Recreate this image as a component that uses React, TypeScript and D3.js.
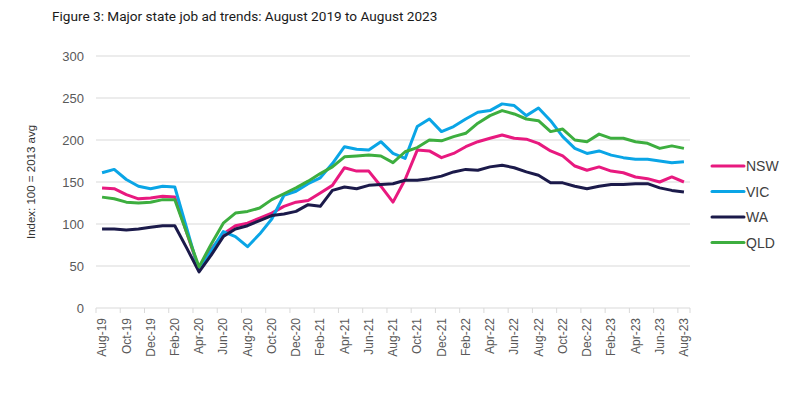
import React from 'react';
import * as d3 from 'd3';

const months = [
  'Aug-19', 'Sep-19', 'Oct-19', 'Nov-19', 'Dec-19', 'Jan-20', 'Feb-20', 'Mar-20', 'Apr-20', 'May-20',
  'Jun-20', 'Jul-20', 'Aug-20', 'Sep-20', 'Oct-20', 'Nov-20', 'Dec-20', 'Jan-21', 'Feb-21', 'Mar-21',
  'Apr-21', 'May-21', 'Jun-21', 'Jul-21', 'Aug-21', 'Sep-21', 'Oct-21', 'Nov-21', 'Dec-21', 'Jan-22',
  'Feb-22', 'Mar-22', 'Apr-22', 'May-22', 'Jun-22', 'Jul-22', 'Aug-22', 'Sep-22', 'Oct-22', 'Nov-22',
  'Dec-22', 'Jan-23', 'Feb-23', 'Mar-23', 'Apr-23', 'May-23', 'Jun-23', 'Jul-23', 'Aug-23',
];

const nsw = [
  143, 142, 135, 130, 131, 133, 132, 89, 46, 70,
  88, 98, 101, 107, 113, 121, 126, 128, 137, 146,
  167, 163, 163, 145, 126, 153, 188, 187, 179, 184,
  192, 198, 202, 206, 202, 201, 196, 187, 181, 169,
  164, 168, 163, 161, 156, 154, 150, 156, 150,
];
const vic = [
  161, 165, 153, 145, 142, 145, 144, 94, 44, 68,
  91, 85, 73, 88, 106, 134, 139, 148, 155, 172,
  192, 189, 188, 198, 184, 178, 216, 225, 210, 216,
  225, 233, 235, 243, 241, 229, 238, 223, 204, 190,
  184, 187, 182, 179, 177, 177, 175, 173, 174,
];
const wa = [
  94, 94, 93, 94, 96, 98, 98, 71, 43, 63,
  85, 94, 98, 104, 110, 112, 115, 123, 121, 140,
  144, 142, 146, 147, 148, 152, 152, 154, 157, 162,
  165, 164, 168, 170, 167, 162, 158, 149, 149, 145,
  142, 145, 147, 147, 148, 148, 143, 140, 138,
];
const qld = [
  132, 130, 126, 125, 126, 129, 129, 89, 49, 76,
  101, 113, 115, 119, 129, 136, 143, 151, 160, 168,
  180, 181, 182, 181, 173, 186, 191, 200, 199, 204,
  208, 220, 229, 235, 231, 225, 223, 210, 213, 200,
  198, 207, 202, 202, 198, 196, 190, 193, 190,
];

const yTicks = [0, 50, 100, 150, 200, 250, 300];

const series = [
  { name: 'NSW', values: nsw, color: '#E8197F' },
  { name: 'VIC', values: vic, color: '#0AA5E6' },
  { name: 'WA', values: wa, color: '#1B1A4A' },
  { name: 'QLD', values: qld, color: '#3DAE3F' },
];

const W = 812;
const H = 398;
const left = 96;
const right = 690;
const top = 56;
const bottom = 308;

export default function App() {
  const x = d3.scaleBand<string>().domain(months).range([left, right]).padding(0);
  const y = d3.scaleLinear().domain([0, 300]).range([bottom, top]);
  const bw = x.bandwidth();
  const cx = (i: number) => (x(months[i]) as number) + bw / 2;

  const line = d3
    .line<number>()
    .x((_, i) => cx(i))
    .y((d) => y(d));

  // every second month gets a label and a tick
  const labelIdx = months.map((_, i) => i).filter((i) => i % 2 === 0);
  const font = 'Arial, "Liberation Sans", sans-serif';

  return (
    <svg width={W} height={H} style={{ position: 'absolute', left: 0, top: 0, background: '#fff' }}>
      <text x={52} y={21} fontFamily='Roboto, "Noto Sans", sans-serif' fontSize={13.6} fill="#1a1a1a">
        Figure 3: Major state job ad trends: August 2019 to August 2023
      </text>

      {yTicks.map((t) => (
        <g key={t}>
          <line x1={left} x2={right} y1={y(t)} y2={y(t)} stroke="#d9d9d9" strokeWidth={1} />
          <text x={84} y={y(t)} dy="0.35em" textAnchor="end" fontFamily={font} fontSize={13} fill="#595959">
            {t}
          </text>
        </g>
      ))}

      {labelIdx.map((i) => (
        <line
          key={'t' + i}
          x1={x(months[i]) as number}
          x2={x(months[i]) as number}
          y1={bottom}
          y2={bottom + 5}
          stroke="#d9d9d9"
        />
      ))}
      <line x1={right} x2={right} y1={bottom} y2={bottom + 5} stroke="#d9d9d9" />

      {labelIdx.map((i) => (
        <text
          key={'l' + i}
          transform={`translate(${cx(i)},${bottom + 10}) rotate(-90)`}
          textAnchor="end"
          dy="0.35em"
          fontFamily={font}
          fontSize={12}
          fill="#595959"
        >
          {months[i]}
        </text>
      ))}

      <text
        transform={`translate(35,182) rotate(-90)`}
        textAnchor="middle"
        fontFamily={font}
        fontSize={11.5}
        fill="#333"
      >
        Index: 100 = 2013 avg
      </text>

      {series.map((s) => (
        <path
          key={s.name}
          d={line(s.values) || ''}
          fill="none"
          stroke={s.color}
          strokeWidth={3}
          strokeLinejoin="round"
        />
      ))}

      {series.map((s, k) => {
        const ly = 166 + k * 25.5;
        return (
          <g key={'lg' + s.name}>
            <line x1={712} x2={744} y1={ly} y2={ly} stroke={s.color} strokeWidth={3} strokeLinecap="round" />
            <text x={746} y={ly} dy="0.36em" fontFamily={font} fontSize={14} fill="#404040">
              {s.name}
            </text>
          </g>
        );
      })}
    </svg>
  );
}
